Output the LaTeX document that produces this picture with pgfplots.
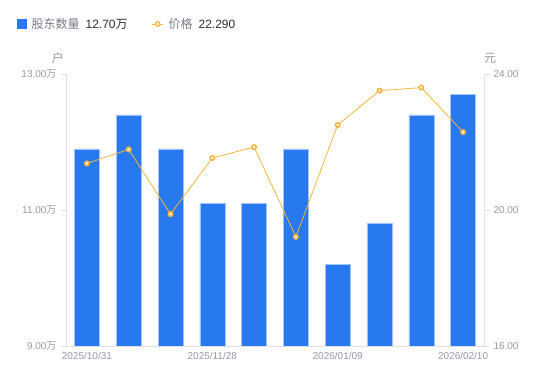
\documentclass[border=0pt]{standalone}
\usepackage{pgfplots}
\pgfplotsset{compat=1.18}
\usepackage{fontspec}
\setmainfont{Liberation Sans}
\newfontfamily\cjk{Noto Sans CJK SC}
\definecolor{barblue}{RGB}{40,120,240}
\definecolor{baredge}{RGB}{160,195,250}
\definecolor{lineorange}{RGB}{248,180,60}
\definecolor{axgray}{RGB}{222,224,230}
\definecolor{labgray}{RGB}{150,152,165}
\definecolor{legray}{RGB}{120,122,135}
\definecolor{txtdark}{RGB}{45,45,50}
\begin{document}
\begin{tikzpicture}
\useasboundingbox (0,0) rectangle (550pt,381pt);
\begin{axis}[
  at={(66pt,35pt)}, anchor=south west,
  scale only axis, width=418pt, height=272pt,
  xmin=-0.5, xmax=9.5, ymin=9, ymax=13,
  axis x line*=bottom, axis y line*=left,
  axis line style={draw=axgray, line width=0.8pt},
  xtick={0,3,6,9},
  xticklabels={2025/10/31,2025/11/28,2026/01/09,2026/02/10},
  ytick={9,11,13},
  yticklabels={9.00{\cjk 万},11.00{\cjk 万},13.00{\cjk 万}},
  tick align=outside, major tick length=5pt,
  ytick style={draw=axgray, line width=0.8pt},
  xtick style={draw=none},
  ticklabel style={font=\fontsize{10}{12}\selectfont, text=labgray},
  yticklabel style={xshift=-1pt},
  xticklabel style={yshift=2pt},
  clip mode=individual,
]
\addplot[ybar, bar width=25pt, fill=barblue, draw=baredge, line width=0.6pt]
  coordinates {(0,11.90)(1,12.40)(2,11.90)(3,11.10)(4,11.10)(5,11.90)(6,10.20)(7,10.80)(8,12.40)(9,12.70)};
\end{axis}
\begin{axis}[
  at={(66pt,35pt)}, anchor=south west,
  scale only axis, width=418pt, height=272pt,
  xmin=-0.5, xmax=9.5, ymin=16, ymax=24,
  axis x line=none, axis y line*=right,
  axis line style={draw=axgray, line width=0.8pt},
  ytick={16,20,24},
  yticklabels={16.00,20.00,24.00},
  tick align=outside, major tick length=5pt,
  ytick style={draw=axgray, line width=0.8pt},
  ticklabel style={font=\fontsize{10}{12}\selectfont, text=labgray},
  yticklabel style={xshift=1pt},
  clip=false,
  legend columns=2,
  legend style={at={(0,1)}, anchor=west, xshift=-52pt, yshift=50pt, draw=none, fill=none,
    font=\fontsize{12}{14}\selectfont, text=legray,
    /tikz/every even column/.append style={column sep=22pt}},
  legend cell align=left,
]
\addlegendimage{legend image code/.code={\fill[barblue] (0pt,-4.5pt) rectangle (9pt,4.5pt);}}
\addlegendentry{\hspace{3pt}{\cjk 股东数量}\hspace{6pt}\textcolor{txtdark}{12.70{\cjk 万}}}
\addplot[draw=lineorange, line width=0.8pt, mark=*, mark size=2.2pt,
  mark options={fill=white, draw=lineorange, line width=1.6pt},
  legend image code/.code={\draw[lineorange, line width=1pt] (0pt,0pt) -- (11pt,0pt);
    \draw[lineorange, fill=white, line width=1.4pt] (5.5pt,0pt) circle (2.2pt);}]
  coordinates {(0,21.37)(1,21.78)(2,19.88)(3,21.53)(4,21.85)(5,19.21)(6,22.50)(7,23.51)(8,23.60)(9,22.29)};
\addlegendentry{\hspace{3pt}{\cjk 价格}\hspace{6pt}\textcolor{txtdark}{22.290}}
\node[font=\cjk\fontsize{12}{14}\selectfont, text=labgray] at (rel axis cs:0,1) [xshift=-8pt, yshift=16pt] {户};
\node[font=\cjk\fontsize{12}{14}\selectfont, text=labgray] at (rel axis cs:1,1) [xshift=6pt, yshift=16pt] {元};
\end{axis}
\end{tikzpicture}
\end{document}
